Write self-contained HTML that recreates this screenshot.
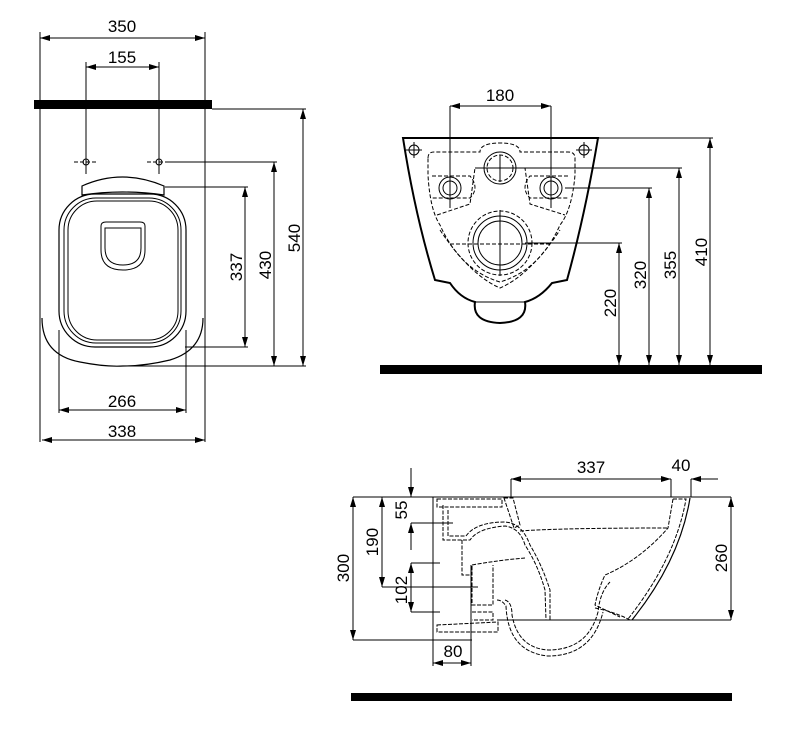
<!DOCTYPE html>
<html><head><meta charset="utf-8"><style>
html,body{margin:0;padding:0;background:#fff;}
svg{display:block;}
text{font-family:"Liberation Sans",Arial,sans-serif;font-size:17px;fill:#000;}
</style></head><body>
<svg width="795" height="751" viewBox="0 0 795 751" xmlns="http://www.w3.org/2000/svg">
<defs>
<marker id="a" viewBox="0 0 10 6" refX="10" refY="3" markerWidth="10" markerHeight="6" orient="auto-start-reverse" markerUnits="userSpaceOnUse"><path d="M0,0 L10,3 L0,6 z" fill="#000"/></marker>
</defs>
<g stroke="#000" fill="none" stroke-width="1">
<!-- ===== TOP LEFT VIEW ===== -->
<rect x="34" y="100" width="178" height="9" fill="#000" stroke="none"/>
<line x1="40" y1="32" x2="40" y2="442"/>
<line x1="205" y1="32" x2="205" y2="442"/>
<line x1="40" y1="38" x2="205" y2="38" marker-start="url(#a)" marker-end="url(#a)"/>
<line x1="86" y1="62" x2="86" y2="174"/>
<line x1="159" y1="62" x2="159" y2="174"/>
<line x1="86" y1="67" x2="159" y2="67" marker-start="url(#a)" marker-end="url(#a)"/>
<circle cx="86" cy="162" r="3"/><line x1="74" y1="162" x2="98" y2="162" stroke-dasharray="4,2"/>
<circle cx="159" cy="162" r="3"/><line x1="147" y1="162" x2="171" y2="162" stroke-dasharray="4,2"/>
<line x1="165" y1="162" x2="277" y2="162"/>
<path d="M82,195 L82,186 Q122,168 164,186 L164,195 Q122,189 82,195 Z" stroke-width="1.2"/>
<rect x="59" y="194" width="127" height="153" rx="36" stroke-width="1.2"/>
<rect x="64" y="198" width="117" height="145" rx="32"/>
<rect x="68" y="201" width="110" height="139" rx="29"/>
<path d="M101,226 Q101,222 106,222 L140,222 Q145,222 145,226 L145,250 Q145,270 123,270 Q101,270 101,250 Z"/>
<path d="M105,228 L141,228 L141,248 Q141,265 123,265 Q105,265 105,248 Z"/>
<path d="M42,318 Q42,355 80,362 Q105,367 123,366 Q145,366 170,360 Q203,350 203,318" stroke-width="1.2"/>
<line x1="165" y1="187" x2="248" y2="187"/>
<line x1="185" y1="347" x2="248" y2="347"/>
<line x1="123" y1="366" x2="306" y2="366"/>
<line x1="212" y1="109" x2="306" y2="109"/>
<line x1="245" y1="187" x2="245" y2="347" marker-start="url(#a)" marker-end="url(#a)"/>
<line x1="274" y1="162" x2="274" y2="366" marker-start="url(#a)" marker-end="url(#a)"/>
<line x1="303" y1="109" x2="303" y2="366" marker-start="url(#a)" marker-end="url(#a)"/>
<line x1="59" y1="330" x2="59" y2="413"/>
<line x1="186" y1="330" x2="186" y2="413"/>
<line x1="59" y1="410" x2="186" y2="410" marker-start="url(#a)" marker-end="url(#a)"/>
<line x1="42" y1="440" x2="205" y2="440" marker-start="url(#a)" marker-end="url(#a)"/>

<!-- ===== TOP RIGHT VIEW ===== -->
<rect x="380" y="365" width="382" height="9" fill="#000" stroke="none"/>
<path d="M403,138 L598,138 Q585,215 567,280 L552,283 Q540,298 525,302 Q528,322 500,323 Q472,322 475,302 Q460,298 450,283 L435,280 Q415,215 403,138 Z" stroke-width="2"/>
<line x1="475" y1="302" x2="525" y2="302"/>
<circle cx="414" cy="150" r="5"/><line x1="406" y1="150" x2="422" y2="150"/><line x1="414" y1="142" x2="414" y2="158"/>
<circle cx="584" cy="150" r="5"/><line x1="576" y1="150" x2="592" y2="150"/><line x1="584" y1="142" x2="584" y2="158"/>
<g stroke-dasharray="4,2">
<path d="M428,158 Q428,152 434,152 L480,152 Q480,143 500,143 Q520,143 520,152 L568,152 Q575,152 575,158 L575,175 Q572,210 560,225 Q540,270 500,282 Q460,270 440,225 Q430,210 428,175 Z"/>
<path d="M440,230 Q470,275 500,288 Q530,275 560,230"/>
<path d="M432,176 L470,176 Q480,188 470,198 L432,198"/>
<path d="M568,176 L530,176 Q520,188 530,198 L568,198"/>
<path d="M437,215 L470,204 L475,168 L525,168 L530,204 L565,215"/>
<circle cx="500" cy="243" r="32"/>
<circle cx="500" cy="168" r="13"/>
<line x1="450" y1="244" x2="550" y2="244"/>
</g>
<circle cx="500" cy="168" r="16"/>
<circle cx="450" cy="188" r="7"/><circle cx="450" cy="188" r="11"/>
<circle cx="551" cy="188" r="7"/><circle cx="551" cy="188" r="11"/>
<circle cx="500" cy="243" r="22"/><circle cx="500" cy="243" r="27"/>
<line x1="500" y1="155" x2="500" y2="182"/><line x1="487" y1="168" x2="513" y2="168"/>
<line x1="500" y1="210" x2="500" y2="276"/>
<line x1="450" y1="106" x2="450" y2="208"/>
<line x1="551" y1="106" x2="551" y2="208"/>
<line x1="450" y1="106" x2="551" y2="106" marker-start="url(#a)" marker-end="url(#a)"/>
<line x1="475" y1="168" x2="682" y2="168"/>
<line x1="565" y1="188" x2="652" y2="188"/>
<line x1="525" y1="243" x2="622" y2="243"/>
<line x1="598" y1="138" x2="713" y2="138"/>
<line x1="619" y1="243" x2="619" y2="365" marker-start="url(#a)" marker-end="url(#a)"/>
<line x1="649" y1="188" x2="649" y2="365" marker-start="url(#a)" marker-end="url(#a)"/>
<line x1="679" y1="168" x2="679" y2="365" marker-start="url(#a)" marker-end="url(#a)"/>
<line x1="710" y1="138" x2="710" y2="365" marker-start="url(#a)" marker-end="url(#a)"/>

<!-- ===== SIDE VIEW ===== -->
<rect x="351" y="693" width="381" height="8" fill="#000" stroke="none"/>
<line x1="353" y1="497" x2="731" y2="497"/>
<line x1="353" y1="640" x2="472" y2="640"/>
<line x1="497" y1="620" x2="731" y2="620"/>
<line x1="353" y1="497" x2="353" y2="640" marker-start="url(#a)" marker-end="url(#a)"/>
<line x1="382" y1="497" x2="382" y2="587" marker-start="url(#a)" marker-end="url(#a)"/>
<line x1="411" y1="468" x2="411" y2="497" marker-end="url(#a)"/>
<line x1="411" y1="550" x2="411" y2="523" marker-end="url(#a)"/>
<line x1="411" y1="563" x2="411" y2="612" marker-start="url(#a)" marker-end="url(#a)"/>
<line x1="411" y1="523" x2="453" y2="523"/>
<line x1="411" y1="563" x2="440" y2="563"/>
<line x1="382" y1="587" x2="478" y2="587"/>
<line x1="411" y1="612" x2="440" y2="612"/>
<line x1="433" y1="497" x2="433" y2="666"/>
<line x1="471" y1="565" x2="471" y2="666"/>
<line x1="433" y1="663" x2="471" y2="663" marker-start="url(#a)" marker-end="url(#a)"/>
<line x1="511" y1="479" x2="511" y2="497"/>
<line x1="671" y1="479" x2="671" y2="497"/>
<line x1="691" y1="479" x2="691" y2="497"/>
<line x1="511" y1="479" x2="671" y2="479" marker-start="url(#a)" marker-end="url(#a)"/>
<line x1="718" y1="479" x2="691" y2="479" marker-end="url(#a)"/>
<line x1="731" y1="497" x2="731" y2="620" marker-start="url(#a)" marker-end="url(#a)"/>
<path d="M690,498 Q680,560 632,620" stroke-width="1.2"/>
<g stroke-dasharray="4,1.5">
<path d="M673,499 L686,499 Q676,558 628,619"/>
<path d="M673,499 L668,528 Q640,560 605,575 Q598,590 595,605 L620,617"/>
<path d="M520,531 Q560,528 668,528"/>
<path d="M437,499 L502,499 L502,507 L437,507 Z"/>
<path d="M443,505 L443,540 L470,540 Q478,528 505,526 Q520,528 525,545 Q538,565 545,590 L546,620"/>
<path d="M448,510 L448,536 L466,536 Q476,522 505,522 Q522,523 530,545 Q542,565 550,590 L550,620"/>
<path d="M504,498 L513,498 L520,525 L514,528 Z"/>
<path d="M462,540 L462,575 L472,575 L472,565 Q500,560 525,558"/>
<path d="M472,566 L472,605 L493,605 L493,565"/>
<path d="M472,612 L493,612 L493,620 L472,620"/>
<path d="M437,625 L498,622 L498,632 L437,632 Z"/>
<path d="M505,600 Q512,602 512,615 Q518,648 548,650 Q588,650 598,612 Q600,592 610,582"/>
<path d="M497,600 Q502,600 506,606 Q508,652 548,656 Q592,656 603,612"/>
<path d="M595,608 Q615,612 630,620"/>
</g>
</g>
<text x="122" y="32" text-anchor="middle">350</text>
<text x="122" y="63" text-anchor="middle">155</text>
<text x="122" y="407" text-anchor="middle">266</text>
<text x="122" y="437" text-anchor="middle">338</text>
<text transform="translate(242,267) rotate(-90)" text-anchor="middle">337</text>
<text transform="translate(271,265) rotate(-90)" text-anchor="middle">430</text>
<text transform="translate(300,238) rotate(-90)" text-anchor="middle">540</text>
<text x="500" y="101" text-anchor="middle">180</text>
<text transform="translate(616,303) rotate(-90)" text-anchor="middle">220</text>
<text transform="translate(646,275) rotate(-90)" text-anchor="middle">320</text>
<text transform="translate(676,265) rotate(-90)" text-anchor="middle">355</text>
<text transform="translate(707,252) rotate(-90)" text-anchor="middle">410</text>
<text transform="translate(349,568) rotate(-90)" text-anchor="middle">300</text>
<text transform="translate(378,542) rotate(-90)" text-anchor="middle">190</text>
<text transform="translate(407,510) rotate(-90)" text-anchor="middle">55</text>
<text transform="translate(407,590) rotate(-90)" text-anchor="middle">102</text>
<text x="453" y="657" text-anchor="middle">80</text>
<text x="591" y="473" text-anchor="middle">337</text>
<text x="681" y="471" text-anchor="middle">40</text>
<text transform="translate(727,558) rotate(-90)" text-anchor="middle">260</text>
</svg>
</body></html>
